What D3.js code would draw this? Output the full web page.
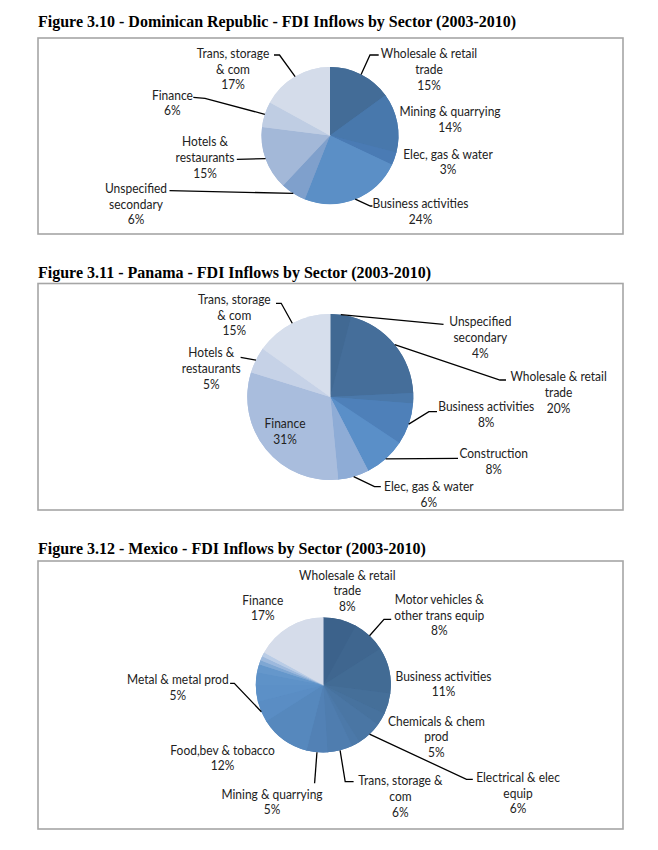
<!DOCTYPE html>
<html>
<head>
<meta charset="utf-8">
<script src="https://cdn.jsdelivr.net/npm/d3@7"></script>
<style>
  html, body { margin: 0; padding: 0; background: #fff; }
  svg { display: block; }
</style>
</head>
<body>
<svg id="chart" width="658" height="850"></svg>
<script>
// ---------- DATA ----------
const drTitle = "Figure 3.10 - Dominican Republic - FDI Inflows by Sector (2003-2010)";
const drCategories = ["Wholesale & retail\ntrade", "Mining & quarrying", "Elec, gas & water", "Business activities",
  "Unspecified\nsecondary", "Hotels &\nrestaurants", "Finance", "Trans, storage\n& com"];
const drValues = [15, 14, 3, 24, 6, 15, 6, 17];
const drColors = ["#436c97", "#4878ac", "#4a7bb4", "#5b8fc6", "#7fa0cc", "#a3b8d8", "#bfcde3", "#d4dcea"];

const paTitle = "Figure 3.11 - Panama - FDI Inflows by Sector (2003-2010)";
const paCategories = ["Unspecified\nsecondary", "Wholesale & retail\ntrade", "", "Business activities",
  "Construction", "Elec, gas & water", "Finance", "Hotels &\nrestaurants", "Trans, storage\n& com"];
const paValues = [4, 20, 2, 8, 8, 6, 31, 5, 15];
const paColors = ["#416993", "#456e9a", "#4a78aa", "#4e80b9", "#5a8fc8", "#8eacd6", "#a9bddd", "#c6d2e7", "#d6deec"];

const mxTitle = "Figure 3.12 - Mexico - FDI Inflows by Sector (2003-2010)";
const mxCategories = ["Wholesale & retail\ntrade", "Motor vehicles &\nother trans equip", "Business activities",
  "Chemicals & chem\nprod", "", "Electrical & elec\nequip", "", "Trans, storage &\ncom", "Mining & quarrying",
  "Food,bev & tobacco", "Metal & metal prod", "", "", "", "", "", "", "Finance"];
const mxValues = [8, 8, 11, 5, 3, 6, 2, 6, 5, 12, 5, 4, 3, 2, 1, 1, 1, 17];
const mxColors = ["#3c628b", "#3f668f", "#426b94", "#456f99", "#47729e", "#4a76a4", "#4c79a9", "#4f7daf",
  "#5281b5", "#5688bd", "#5a8dc4", "#5c90c7", "#5e92c8", "#6597cb", "#7fa7d3", "#9db9dd", "#b9cce6", "#d5dcea"];

// ---------- LAYOUT (label offsets from pie centre; leader elbows) ----------
const drLayout = [
  {l: [99, -82], p: [[40, -80.5], [48.7, -80.5]]},
  {l: [120, -24], p: null},
  {l: [118, 18.5], p: null},
  {l: [90.5, 68], p: [[40.3, 70.5], [42.4, 70.5]]},
  {l: [-194, 52.8], p: [[-160.5, 55.2]]},
  {l: [-125, 6.2], p: [[-93.2, 23.8]]},
  {l: [-157.6, -40.5], p: [[-125, -37.2], [-136.7, -38.2]]},
  {l: [-97, -82.2], p: [[-50.5, -80.5], [-56, -80.5]]}
];
const paLayout = [
  {l: [150, -75.3], p: [[113.2, -72.7]]},
  {l: [228.3, -20.3], p: [[169.7, -17], [175.7, -17]]},
  null,
  {l: [155.9, 9.7], p: [[98.6, 14.7], [106.7, 14.7]]},
  {l: [163.4, 56.3], p: [[127.7, 61.3]]},
  {l: [98.6, 89.7], p: [[44.2, 89.7], [50.5, 89.7]]},
  {l: [-45.3, 26.3], p: null},
  {l: [-119, -44.3], p: [[-89.7, -39.7]]},
  {l: [-96, -97.7], p: [[-49.1, -93.7], [-54.3, -93.7]]}
];
const mxLayout = [
  {l: [24, -110], p: null},
  {l: [116, -85.7], p: [[60.7, -65.7], [67.9, -65.7]]},
  {l: [120.2, -9], p: null},
  {l: [113.1, 36], p: null},
  null,
  {l: [194.7, 92.3], p: [[143.2, 94.3], [149.5, 94.3]]},
  null,
  {l: [77.1, 95.7], p: [[21.9, 96.7], [30.3, 96.7]]},
  {l: [-51.3, 109], p: [[-8.7, 98.3]]},
  {l: [-100.7, 65], p: null},
  {l: [-145.5, -5.7], p: [[-89, -1.7], [-93.2, -1.7]]},
  null, null, null, null, null, null,
  {l: [-60.5, -85], p: null}
];

const charts = [
  {title: drTitle, cats: drCategories, vals: drValues, cols: drColors, lay: drLayout,
   titleY: 27, box: [38, 38, 623, 234], cx: 330, cy: 135.5, r: 68.5},
  {title: paTitle, cats: paCategories, vals: paValues, cols: paColors, lay: paLayout,
   titleY: 278, box: [38, 283.5, 623, 510], cx: 330.3, cy: 397, r: 83},
  {title: mxTitle, cats: mxCategories, vals: mxValues, cols: mxColors, lay: mxLayout,
   titleY: 554, box: [38, 561, 623, 829], cx: 323.3, cy: 685, r: 67.5}
];

const svg = d3.select("#chart");
const labelFont = "Lato, 'Open Sans', 'DejaVu Sans', sans-serif";
const fontSize = 13;
const lineH = 15.8;

// calibrate horizontal compression to approximate Calibri widths
const probe = svg.append("text").attr("font-family", labelFont).attr("font-size", fontSize)
  .text("Business activities");
const measured = probe.node().getComputedTextLength();
probe.remove();
const kx = measured > 0 ? 96 / measured : 1;

charts.forEach(c => {
  // title
  svg.append("text")
    .attr("x", 38).attr("y", c.titleY)
    .attr("font-family", "'Liberation Serif', 'Times New Roman', serif")
    .attr("font-weight", "bold")
    .attr("font-size", 16)
    .attr("fill", "#000")
    .text(c.title);

  // frame
  const [x0, y0, x1, y1] = c.box;
  svg.append("rect")
    .attr("x", x0).attr("y", y0).attr("width", x1 - x0).attr("height", y1 - y0)
    .attr("fill", "#fff").attr("stroke", "#a6a6a6").attr("stroke-width", 1.6);

  const data = c.cats.map((name, i) => ({name, value: c.vals[i], color: c.cols[i], lay: c.lay[i]}));
  const pie = d3.pie().sort(null).value(d => d.value);
  const arcs = pie(data);
  const arc = d3.arc().innerRadius(0).outerRadius(c.r);
  const edge = d3.arc().innerRadius(c.r).outerRadius(c.r);

  const g = svg.append("g").attr("transform", `translate(${c.cx},${c.cy})`);
  // underlay pass (slightly shrunk outer radius, stroked) hides anti-aliasing seams
  const arcUnder = d3.arc().innerRadius(0).outerRadius(c.r - 0.8);
  g.selectAll("path.under").data(arcs).enter().append("path")
    .attr("class", "under")
    .attr("d", arcUnder)
    .attr("fill", d => d.data.color)
    .attr("stroke", d => d.data.color)
    .attr("stroke-width", 1.6)
    .attr("stroke-linejoin", "round");
  g.selectAll("path.slice").data(arcs).enter().append("path")
    .attr("class", "slice")
    .attr("d", arc)
    .attr("fill", d => d.data.color)
    .attr("stroke", "none");

  // leaders
  const line = d3.line();
  arcs.forEach(d => {
    const L = d.data.lay;
    if (!L || !L.p) return;
    const pts = [edge.centroid(d)].concat(L.p);
    g.append("path").attr("d", line(pts))
      .attr("fill", "none").attr("stroke", "#000").attr("stroke-width", 1.3);
  });

  // labels
  arcs.forEach(d => {
    const L = d.data.lay;
    if (!L || !d.data.name) return;
    const lines = d.data.name.split("\n").concat([d.data.value + "%"]);
    const t = g.append("text")
      .attr("transform", `translate(${L.l[0]},${L.l[1]}) scale(${kx},1)`)
      .attr("font-family", labelFont)
      .attr("font-size", fontSize)
      .attr("fill", "#222")
      .attr("text-anchor", "middle");
    lines.forEach((s, i) => {
      t.append("tspan").attr("x", 0).attr("y", i * lineH).attr("dy", "0.35em").text(s);
    });
  });
});
</script>
</body>
</html>
